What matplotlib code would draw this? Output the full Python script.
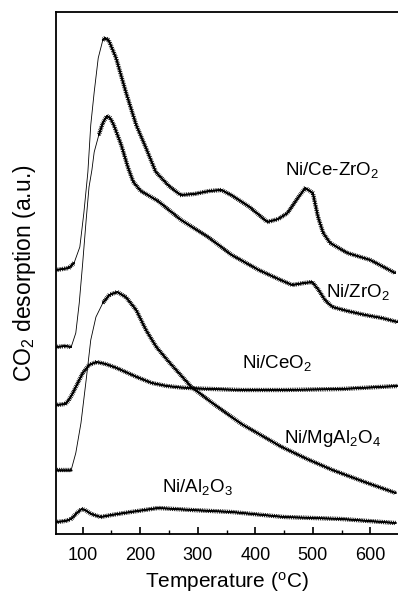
import numpy as np
import matplotlib
matplotlib.use("Agg")
import matplotlib.pyplot as plt
import matplotlib.patheffects as pe
from matplotlib.ticker import MultipleLocator, NullLocator

plt.rcParams["font.family"] = ["Liberation Sans", "DejaVu Sans"]
plt.rcParams["mathtext.fontset"] = "custom"
plt.rcParams["mathtext.rm"] = "Liberation Sans"
plt.rcParams["mathtext.it"] = "Liberation Sans"

# CO2-TPD curves (temperature in C, signal in a.u.)
t_cezr = [54, 65, 76, 85, 95, 102, 109, 114, 120, 127, 135, 139, 145, 158, 175, 193, 210, 227,
          250, 270, 294, 320, 341, 358, 390, 421, 440, 456, 475, 487, 500, 509, 518, 530, 560, 600, 643]
y_cezr = [2.64, 2.65, 2.66, 2.71, 2.87, 3.21, 3.62, 4.09, 4.42, 4.76, 4.94, 4.96, 4.94, 4.76, 4.42,
          4.09, 3.86, 3.62, 3.48, 3.39, 3.40, 3.43, 3.44, 3.39, 3.27, 3.12, 3.15, 3.21, 3.37, 3.46,
          3.41, 3.17, 3.01, 2.91, 2.81, 2.74, 2.61]

t_zr = [54, 70, 80, 88, 94, 100, 106, 111, 116, 120, 128, 135, 142, 148, 154, 167, 179, 188, 201,
        231, 271, 318, 359, 406, 440, 464, 485, 499, 510, 521, 534, 560, 591, 620, 647]
y_zr = [1.87, 1.88, 1.87, 2.01, 2.31, 2.71, 3.14, 3.47, 3.64, 3.82, 3.99, 4.11, 4.18, 4.16, 4.09,
        3.89, 3.66, 3.52, 3.43, 3.33, 3.14, 2.97, 2.79, 2.64, 2.55, 2.49, 2.51, 2.52, 2.44, 2.34,
        2.27, 2.23, 2.19, 2.16, 2.12]

t_ce = [54, 70, 76, 82, 88, 94, 100, 111, 124, 140, 159, 194, 220, 246, 270, 300, 376, 450, 550, 647]
y_ce = [1.29, 1.30, 1.34, 1.40, 1.47, 1.54, 1.61, 1.69, 1.72, 1.70, 1.66, 1.57, 1.51, 1.48, 1.465,
        1.455, 1.44, 1.44, 1.45, 1.48]

t_mg = [54, 70, 80, 88, 97, 106, 114, 123, 135, 146, 160, 175, 193, 210, 228, 250, 289, 330, 376,
        446, 490, 534, 590, 644]
y_mg = [0.64, 0.64, 0.64, 0.81, 1.11, 1.54, 1.94, 2.17, 2.31, 2.39, 2.42, 2.37, 2.24, 2.04, 1.87,
        1.72, 1.47, 1.29, 1.10, 0.87, 0.75, 0.64, 0.52, 0.41]

t_al = [54, 70, 80, 88, 98, 104, 115, 131, 150, 172, 231, 289, 359, 450, 550, 644]
y_al = [0.12, 0.13, 0.15, 0.20, 0.25, 0.24, 0.20, 0.17, 0.19, 0.21, 0.26, 0.24, 0.22, 0.17, 0.15, 0.11]

curves_t = [t_cezr, t_zr, t_ce, t_mg, t_al]
curves_y = [y_cezr, y_zr, y_ce, y_mg, y_al]
# temperature span where the trace is drawn as a thin line (steep rise)
thin_from = [85, 80, None, 80, None]
thin_to = [135, 128, None, 135, None]

labels = [r"Ni/Ce-ZrO$_2$", r"Ni/ZrO$_2$", r"Ni/CeO$_2$", r"Ni/MgAl$_2$O$_4$", r"Ni/Al$_2$O$_3$"]
label_x = [452, 522, 377, 449, 238]
label_y = [3.59, 2.37, 1.66, 0.91, 0.42]

fig = plt.figure(figsize=(3.98, 5.93), dpi=100)
ax = fig.add_axes([56 / 398, 1 - 534 / 593, 342 / 398, 522.5 / 593])

fuzz = [pe.withTickedStroke(spacing=1.3, angle=75, length=1.0, linewidth=0.6),
        pe.withTickedStroke(spacing=1.3, angle=-105, length=1.0, linewidth=0.6),
        pe.Normal()]

for t, y, lo, hi in zip(curves_t, curves_y, thin_from, thin_to):
    t = np.array(t, dtype=float)
    y = np.array(y, dtype=float)
    if lo is None:
        ax.plot(t, y, color="black", lw=1.0, path_effects=fuzz)
        continue
    ax.plot(t, y, color="black", lw=0.6)
    left = t <= lo
    right = t >= hi
    ax.plot(t[left], y[left], color="black", lw=1.0, path_effects=fuzz)
    ax.plot(t[right], y[right], color="black", lw=1.0, path_effects=fuzz)

for s, x, y in zip(labels, label_x, label_y):
    ax.text(x, y, s, fontsize=13.5, ha="left", va="baseline")

ax.set_xlim(53.6, 648)
ax.set_ylim(0, 5.225)
ax.xaxis.set_major_locator(MultipleLocator(100))
ax.xaxis.set_minor_locator(MultipleLocator(50))
ax.yaxis.set_major_locator(NullLocator())
ax.tick_params(axis="x", which="major", direction="in", length=5, width=1.2, labelsize=13, pad=9)
ax.tick_params(axis="x", which="minor", direction="in", length=3, width=1.0)
ax.spines["right"].set_visible(False)
for sp in ["left", "top", "bottom"]:
    ax.spines[sp].set_linewidth(1.3)

ax.set_xlabel(r"Temperature ($^{\rm o}$C)", fontsize=15, labelpad=5)
ax.set_ylabel(r"CO$_2$ desorption (a.u.)", fontsize=16.5, labelpad=13)

fig.savefig("out.png", dpi=100)
